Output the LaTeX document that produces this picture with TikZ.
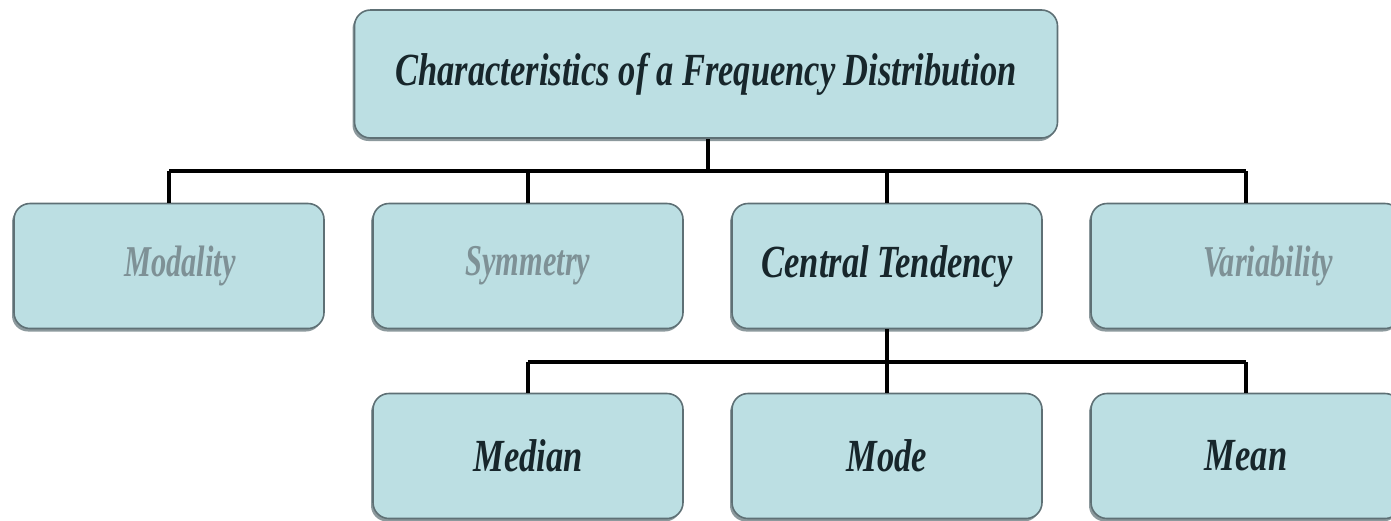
\documentclass[tikz,border=0pt]{standalone}
\usepackage{fontspec}
\setmainfont{Liberation Serif}
\usetikzlibrary{shadows}
\definecolor{boxfill}{HTML}{BCDFE3}
\definecolor{boxline}{HTML}{5E7075}
\definecolor{boxshade}{HTML}{6F8084}
\definecolor{darktext}{HTML}{17262B}
\definecolor{greytext}{HTML}{7E9196}
% condensed bold italic labels
\newcommand{\lbl}[1]{{\fontsize{46}{48}\selectfont\scalebox{0.75}[1]{\bfseries\itshape #1}}}
\newcommand{\flbl}[1]{{\fontsize{44}{46}\selectfont\scalebox{0.69}[1]{\bfseries\itshape #1}}}
\tikzset{
  x=1pt, y=1pt,
  card/.style={draw=boxline, line width=1.6pt, fill=boxfill, rounded corners=16pt,
    drop shadow={shadow xshift=-2pt, shadow yshift=-3pt, fill=boxshade, opacity=0.8},
    inner sep=0pt, align=center},
  smallcard/.style={card, minimum width=310pt, minimum height=125pt},
  strong/.style={text=darktext},
  faint/.style={text=greytext},
  bus/.style={line width=4.5pt, black},
  drop/.style={line width=3.5pt, black}
}
\begin{document}
\begin{tikzpicture}
\useasboundingbox (0,0) rectangle (1391,-520);
% title
\node[card, strong, minimum width=703pt, minimum height=128pt] (top) at (706,-74)
  {\lbl{Characteristics of a Frequency Distribution}};
% second row
\node[smallcard, faint]  (mod) at (169,-266) {\hspace*{22pt}\flbl{Modality}};
\node[smallcard, faint]  (sym) at (528,-266) {\flbl{Symmetry}};
\node[smallcard, strong] (ct)  at (887,-266) {\lbl{Central Tendency}};
\node[smallcard, faint]  (var) at (1246,-266) {\hspace*{44pt}\flbl{Variability}};
% third row
\node[smallcard, strong] (med)  at (528,-456) {\lbl{Median}};
\node[smallcard, strong] (mode) at (887,-456) {\lbl{Mode}};
\node[smallcard, strong] (mean) at (1246,-456) {\lbl{Mean}};
% connectors
\coordinate (b1) at (708,-171);
\coordinate (b2) at (887,-362);
\draw[drop] (top.south -| b1) -- (b1);
\draw[bus] (mod.north |- b1) -- (var.north |- b1);
\foreach \n in {mod,sym,ct,var} \draw[drop] (\n.north |- b1) -- (\n.north);
\draw[drop] (ct.south) -- (b2);
\draw[bus] (med.north |- b2) -- (mean.north |- b2);
\foreach \n in {med,mode,mean} \draw[drop] (\n.north |- b2) -- (\n.north);
\end{tikzpicture}
\end{document}
